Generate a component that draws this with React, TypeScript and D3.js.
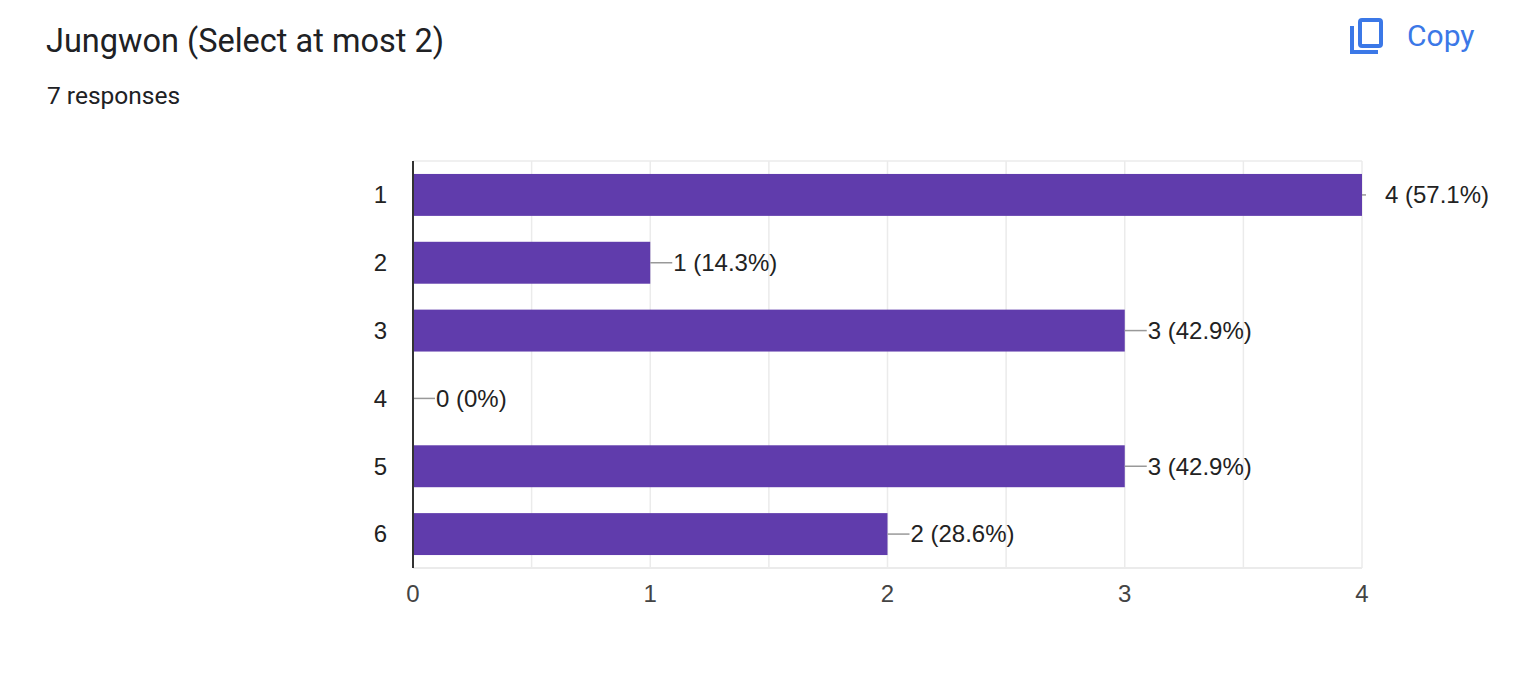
import { useEffect, useRef } from "react"
import * as d3 from "d3"

const categories = ["1", "2", "3", "4", "5", "6"]
const counts = [4, 1, 3, 0, 3, 2]
const percents = ["57.1%", "14.3%", "42.9%", "0%", "42.9%", "28.6%"]
const xTicks = [0, 1, 2, 3, 4]
const gridTicks = [0.5, 1, 1.5, 2, 2.5, 3, 3.5, 4]

const title = "Jungwon (Select at most 2)"
const subtitle = "7 responses"

export default function App() {
  const svgRef = useRef<SVGSVGElement>(null)

  useEffect(() => {
    if (!svgRef.current) return
    const W = 1520
    const H = 678
    const margin = { top: 161, right: 158, bottom: 110, left: 413 }
    const width = W - margin.left - margin.right
    const height = H - margin.top - margin.bottom

    const root = d3.select(svgRef.current)
    root.selectAll("*").remove()
    root.attr("width", W).attr("height", H)

    root.append("rect").attr("width", W).attr("height", H).attr("fill", "#fff")

    // header
    root
      .append("text")
      .attr("x", 46)
      .attr("y", 52)
      .attr("font-family", "Roboto, sans-serif")
      .attr("font-size", 32.5)
      .attr("fill", "#202124")
      .text(title)
    root
      .append("text")
      .attr("x", 47)
      .attr("y", 104)
      .attr("font-family", "Roboto, sans-serif")
      .attr("font-size", 24.5)
      .attr("fill", "#202124")
      .text(subtitle)

    // copy button
    const copy = root.append("g").attr("transform", "translate(1350,18)")
    copy
      .append("path")
      .attr("d", "M2,8 V34 H28")
      .attr("fill", "none")
      .attr("stroke", "#3b78e7")
      .attr("stroke-width", 4)
    copy
      .append("rect")
      .attr("x", 10)
      .attr("y", 2)
      .attr("width", 21)
      .attr("height", 26)
      .attr("rx", 2)
      .attr("fill", "none")
      .attr("stroke", "#3b78e7")
      .attr("stroke-width", 4)
    root
      .append("text")
      .attr("x", 1407)
      .attr("y", 46)
      .attr("font-family", "Roboto, sans-serif")
      .attr("font-size", 30)
      .attr("fill", "#3b78e7")
      .text("Copy")

    const svg = root.append("g").attr("transform", `translate(${margin.left},${margin.top})`)

    const x = d3.scaleLinear().domain([0, 4]).range([0, width])
    const y = d3.scaleBand().domain(categories).range([0, height]).paddingInner(0.382).paddingOuter(0.191)

    // grid
    svg
      .selectAll(".grid")
      .data(gridTicks)
      .enter()
      .append("line")
      .attr("x1", (d) => x(d))
      .attr("x2", (d) => x(d))
      .attr("y1", 0)
      .attr("y2", height)
      .attr("stroke", "#ebebeb")
      .attr("stroke-width", 1.5)
    svg
      .append("line")
      .attr("x1", 0)
      .attr("x2", width)
      .attr("y1", 0)
      .attr("y2", 0)
      .attr("stroke", "#ebebeb")
      .attr("stroke-width", 1.5)
    svg
      .append("line")
      .attr("x1", 0)
      .attr("x2", width)
      .attr("y1", height)
      .attr("y2", height)
      .attr("stroke", "#ebebeb")
      .attr("stroke-width", 2)

    // bars
    svg
      .selectAll(".bar")
      .data(counts)
      .enter()
      .append("rect")
      .attr("x", 0)
      .attr("y", (_, i) => y(categories[i])!)
      .attr("width", (d) => x(d))
      .attr("height", y.bandwidth())
      .attr("fill", "#603cac")

    // leader lines + labels
    const maxVal = d3.max(counts) || 0
    counts.forEach((d, i) => {
      const cy = y(categories[i])! + y.bandwidth() / 2
      const len = d === maxVal ? 4 : 22
      svg
        .append("line")
        .attr("x1", x(d))
        .attr("x2", x(d) + len)
        .attr("y1", cy)
        .attr("y2", cy)
        .attr("stroke", "#999")
        .attr("stroke-width", 1.5)
      svg
        .append("text")
        .attr("x", x(d) + 23)
        .attr("y", cy)
        .attr("dy", "0.35em")
        .attr("font-family", "Arial, 'Liberation Sans', sans-serif")
        .attr("font-size", 24)
        .attr("fill", "#222")
        .text(`${d} (${percents[i]})`)
    })

    // y axis line
    svg
      .append("line")
      .attr("x1", 0)
      .attr("x2", 0)
      .attr("y1", 0)
      .attr("y2", height)
      .attr("stroke", "#333")
      .attr("stroke-width", 2)

    // y labels
    svg
      .selectAll(".ylab")
      .data(categories)
      .enter()
      .append("text")
      .attr("x", -26)
      .attr("y", (d) => y(d)! + y.bandwidth() / 2)
      .attr("dy", "0.35em")
      .attr("text-anchor", "end")
      .attr("font-family", "Arial, 'Liberation Sans', sans-serif")
      .attr("font-size", 24)
      .attr("fill", "#222")
      .text((d) => d)

    // x labels
    svg
      .selectAll(".xlab")
      .data(xTicks)
      .enter()
      .append("text")
      .attr("x", (d) => x(d))
      .attr("y", height + 34)
      .attr("text-anchor", "middle")
      .attr("font-family", "Arial, 'Liberation Sans', sans-serif")
      .attr("font-size", 24)
      .attr("fill", "#444")
      .text((d) => d)
  }, [])

  return <svg ref={svgRef} style={{ position: "absolute", left: 0, top: 0, display: "block" }}></svg>
}
